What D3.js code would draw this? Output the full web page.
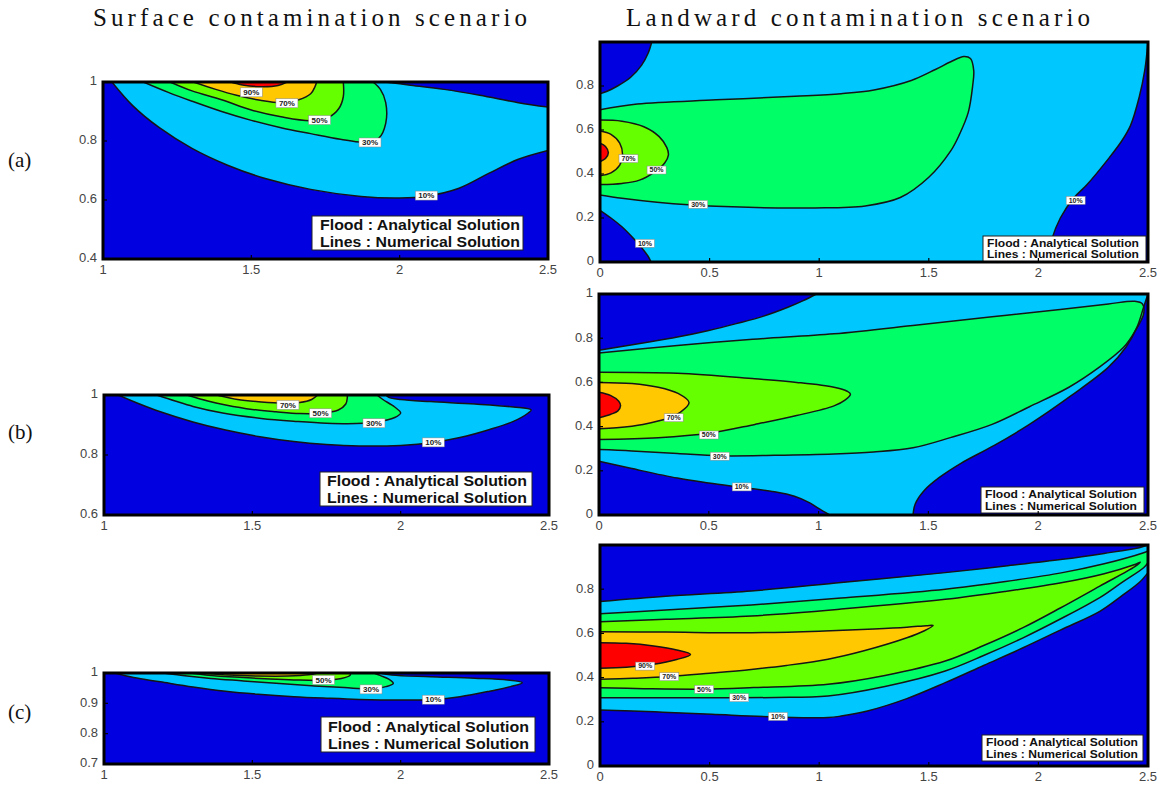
<!DOCTYPE html>
<html><head><meta charset="utf-8">
<script src="https://cdn.jsdelivr.net/npm/d3@7"></script>
<style>body{margin:0;background:#fff}svg{display:block}</style>
</head><body><svg id="c" width="1174" height="788"></svg>
<script>
// ---------------- data ----------------
const levelNames = ["<10%","10%","30%","50%","70%","90%"];
const levelColors = ["#0000e0","#00c8ff","#00ff66","#66ff00","#ffc800","#ff0000"];
const columnTitles = ["Surface contamination scenario","Landward contamination scenario"];
const rowLabels = ["(a)","(b)","(c)"];
const legendLines = ["Flood : Analytical Solution","Lines : Numerical Solution"];
const xTicksSurface = [1,1.5,2,2.5];
const xTicksLandward = [0,0.5,1,1.5,2,2.5];
const yTicksAS = [0.4,0.6,0.8,1];
const yTicksBS = [0.6,0.8,1];
const yTicksCS = [0.7,0.8,0.9,1];
const yTicksAL = [0,0.2,0.4,0.6,0.8];
const yTicksBL = [0,0.2,0.4,0.6,0.8,1];
const yTicksCL = [0,0.2,0.4,0.6,0.8];

// (a) surface
const aS10a = [[1.03,1],[1.1,0.92],[1.19,0.845],[1.3,0.775],[1.42,0.718],[1.55,0.672],[1.7,0.636],[1.87,0.612],[2.0,0.607],[2.09,0.613],[2.2,0.64],[2.3,0.69],[2.4,0.738],[2.5,0.768]];
const aS10b = [[2.5,0.915],[2.4,0.93],[2.27,0.955],[2.15,0.975],[2.03,0.99],[1.95,1]];
const aS30 = [[1.136,1],[1.22,0.965],[1.3,0.935],[1.4,0.9],[1.5,0.87],[1.6,0.845],[1.7,0.825],[1.8,0.806],[1.88,0.796],[1.93,0.81],[1.953,0.86],[1.953,0.93],[1.935,0.975],[1.91,1]];
const aS50 = [[1.226,1],[1.3,0.97],[1.4,0.94],[1.5,0.905],[1.6,0.882],[1.7,0.869],[1.76,0.88],[1.795,0.91],[1.81,0.95],[1.81,1]];
const aS70 = [[1.305,1],[1.38,0.975],[1.45,0.955],[1.53,0.938],[1.6,0.93],[1.66,0.94],[1.7,0.96],[1.715,0.985],[1.72,1]];
const aS90 = [[1.43,1],[1.47,0.99],[1.53,0.984],[1.59,0.988],[1.62,1]];
const aSLabels = [[1.50,0.965,"90%"],[1.62,0.928,"70%"],[1.73,0.871,"50%"],[1.90,0.795,"30%"],[2.09,0.615,"10%"]];

// (b) surface
const bS10 = [[1.048,1],[1.12,0.97],[1.19,0.944],[1.3,0.91],[1.41,0.883],[1.52,0.862],[1.64,0.845],[1.75,0.835],[1.86,0.83],[2.0,0.832],[2.11,0.842],[2.2,0.858],[2.3,0.885],[2.38,0.912],[2.43,0.94],[2.44,0.95],[2.38,0.96],[2.25,0.97],[2.1,0.978],[2.0,0.985],[1.96,0.992],[1.95,1]];
const bS30 = [[1.178,1],[1.24,0.98],[1.3,0.962],[1.4,0.94],[1.53,0.922],[1.65,0.912],[1.75,0.906],[1.85,0.905],[1.93,0.912],[1.98,0.925],[2.0,0.94],[1.98,0.96],[1.94,0.985],[1.92,1]];
const bS50 = [[1.28,1],[1.35,0.98],[1.41,0.967],[1.5,0.952],[1.58,0.944],[1.66,0.938],[1.73,0.939],[1.79,0.95],[1.815,0.97],[1.82,0.99],[1.82,1]];
const bS70 = [[1.38,1],[1.45,0.985],[1.53,0.977],[1.6,0.973],[1.66,0.975],[1.70,0.985],[1.72,1]];
const bSLabels = [[1.62,0.967,"70%"],[1.73,0.939,"50%"],[1.91,0.906,"30%"],[2.11,0.842,"10%"]];

// (c) surface
const cS10 = [[1.037,1],[1.1,0.985],[1.19,0.971],[1.3,0.954],[1.41,0.94],[1.52,0.93],[1.64,0.922],[1.75,0.917],[1.86,0.913],[2.0,0.911],[2.11,0.913],[2.2,0.922],[2.3,0.94],[2.37,0.955],[2.41,0.968],[2.36,0.977],[2.25,0.983],[2.1,0.988],[1.97,0.993],[1.93,1]];
const cS30 = [[1.20,1],[1.28,0.99],[1.36,0.982],[1.47,0.974],[1.58,0.966],[1.7,0.958],[1.81,0.952],[1.9,0.948],[1.95,0.955],[1.975,0.966],[1.96,0.98],[1.93,0.992],[1.91,1]];
const cS50 = [[1.29,1],[1.38,0.99],[1.47,0.985],[1.56,0.98],[1.64,0.977],[1.74,0.976],[1.8,0.982],[1.83,0.993],[1.83,1]];
const cS70 = [[1.33,1],[1.42,0.993],[1.52,0.99],[1.62,0.99],[1.69,0.994],[1.72,1]];
const cSLabels = [[1.74,0.977,"50%"],[1.90,0.946,"30%"],[2.11,0.912,"10%"]];

// (a) landward
const aL10tl = [[0.236,1],[0.22,0.95],[0.19,0.895],[0.14,0.84],[0.08,0.8],[0.03,0.775],[0,0.765]];
const aL10bl = [[0,0.235],[0.05,0.2],[0.1,0.16],[0.15,0.11],[0.19,0.065],[0.22,0.025],[0.233,0]];
const aL10r = [[2.04,0],[2.06,0.1],[2.1,0.2],[2.16,0.29],[2.22,0.35],[2.32,0.47],[2.38,0.55],[2.42,0.62],[2.46,0.75],[2.485,0.87],[2.495,0.95],[2.5,1]];
const aL30 = [[0,0.692],[0.17,0.718],[0.53,0.737],[0.89,0.753],[1.1,0.765],[1.25,0.782],[1.42,0.825],[1.53,0.875],[1.6,0.91],[1.66,0.934],[1.69,0.925],[1.705,0.87],[1.70,0.8],[1.68,0.68],[1.64,0.58],[1.6,0.505],[1.5,0.385],[1.37,0.293],[1.21,0.255],[0.98,0.246],[0.53,0.253],[0.26,0.272],[0.1,0.29],[0,0.305]];
const aL50 = [[0,0.645],[0.1,0.64],[0.2,0.615],[0.27,0.57],[0.305,0.52],[0.312,0.486],[0.295,0.45],[0.25,0.41],[0.18,0.372],[0.1,0.357],[0,0.352]];
const aL70 = [[0,0.595],[0.05,0.58],[0.09,0.54],[0.103,0.485],[0.09,0.44],[0.05,0.405],[0,0.392]];
const aL90 = [[0,0.54],[0.025,0.525],[0.038,0.497],[0.025,0.47],[0,0.456]];
const aLLabels = [[0.13,0.47,"70%"],[0.258,0.418,"50%"],[0.448,0.262,"30%"],[0.205,0.085,"10%"],[2.17,0.28,"10%"]];

// (b) landward
const bL10tl = [[0.99,1],[0.93,0.97],[0.86,0.94],[0.75,0.9],[0.625,0.866],[0.5,0.835],[0.357,0.805],[0.2,0.778],[0.09,0.76],[0,0.745]];
const bL10bl = [[0,0.243],[0.15,0.21],[0.357,0.167],[0.5,0.145],[0.65,0.125],[0.8,0.105],[0.89,0.085],[0.96,0.055],[1.0,0.03],[1.05,0]];
const bL10r = [[1.43,0],[1.44,0.05],[1.48,0.11],[1.55,0.17],[1.65,0.235],[1.8,0.315],[1.96,0.41],[2.15,0.54],[2.32,0.669],[2.4,0.76],[2.45,0.85],[2.48,0.94],[2.5,1]];
const bL30 = [[0,0.733],[0.357,0.767],[0.7,0.795],[1.07,0.82],[1.45,0.86],[1.79,0.897],[2.1,0.93],[2.32,0.955],[2.44,0.967],[2.475,0.955],[2.48,0.91],[2.44,0.83],[2.39,0.76],[2.28,0.67],[2.14,0.578],[1.96,0.49],[1.79,0.41],[1.6,0.35],[1.43,0.304],[1.25,0.285],[1.07,0.276],[0.8,0.27],[0.55,0.268],[0.357,0.278],[0.15,0.29],[0,0.296]];
const bL50 = [[0,0.646],[0.357,0.641],[0.71,0.616],[0.9,0.6],[1.07,0.578],[1.13,0.56],[1.145,0.547],[1.12,0.52],[1.07,0.494],[0.9,0.45],[0.71,0.41],[0.5,0.37],[0.27,0.35],[0,0.342]];
const bL70 = [[0,0.60],[0.15,0.595],[0.27,0.578],[0.36,0.55],[0.41,0.509],[0.37,0.465],[0.32,0.44],[0.2,0.41],[0.08,0.395],[0,0.39]];
const bL90 = [[0,0.555],[0.054,0.54],[0.09,0.515],[0.098,0.494],[0.085,0.47],[0.054,0.456],[0,0.44]];
const bLLabels = [[0.34,0.44,"70%"],[0.5,0.362,"50%"],[0.55,0.266,"30%"],[0.65,0.127,"10%"]];

// (c) landward
const cL10u = [[0,0.744],[0.3,0.768],[0.69,0.792],[1.1,0.83],[1.575,0.875],[1.85,0.905],[2.11,0.935],[2.3,0.962],[2.46,0.988],[2.5,1.0]];
const cL10l = [[2.5,0.875],[2.46,0.83],[2.38,0.77],[2.28,0.70],[2.1,0.615],[1.93,0.535],[1.75,0.455],[1.575,0.377],[1.4,0.305],[1.22,0.249],[1.1,0.226],[1.04,0.219],[0.8,0.222],[0.51,0.234],[0.25,0.245],[0,0.253]];
const cL30u = [[0,0.689],[0.3,0.706],[0.69,0.729],[1.1,0.76],[1.575,0.80],[1.85,0.835],[2.11,0.875],[2.3,0.915],[2.48,0.965],[2.5,0.973]];
const cL30l = [[2.5,0.92],[2.48,0.897],[2.38,0.83],[2.28,0.762],[2.1,0.665],[1.93,0.58],[1.75,0.5],[1.575,0.43],[1.3,0.36],[1.04,0.317],[0.8,0.31],[0.5,0.309],[0,0.309]];
const cL50 = [[0,0.653],[0.3,0.664],[0.69,0.679],[1.1,0.71],[1.575,0.754],[1.85,0.79],[2.11,0.83],[2.3,0.87],[2.44,0.912],[2.465,0.922],[2.44,0.902],[2.28,0.814],[2.1,0.715],[1.93,0.626],[1.75,0.545],[1.575,0.475],[1.3,0.41],[1.04,0.37],[0.7,0.355],[0.475,0.348],[0.2,0.35],[0,0.354]];
const cL70 = [[0,0.608],[0.3,0.606],[0.69,0.603],[1.0,0.61],[1.25,0.62],[1.40,0.628],[1.49,0.635],[1.52,0.636],[1.48,0.612],[1.40,0.58],[1.2,0.52],[1.04,0.483],[0.85,0.455],[0.69,0.437],[0.5,0.42],[0.316,0.405],[0.15,0.397],[0,0.392]];
const cL90 = [[0,0.558],[0.12,0.555],[0.245,0.543],[0.35,0.525],[0.413,0.505],[0.35,0.482],[0.245,0.46],[0.12,0.447],[0,0.442]];
const cLLabels = [[0.206,0.452,"90%"],[0.316,0.404,"70%"],[0.475,0.347,"50%"],[0.635,0.309,"30%"],[0.812,0.224,"10%"]];

// ---------------- layout ----------------
const svg = d3.select("#c");
const panels = [
  {id:"aS", xd:[1,2.5], yd:[0.4,1], box:[103,82,548,259], xt:xTicksSurface, yt:yTicksAS,
   regions:[[aS10a,aS10b],[aS30],[aS50],[aS70],[aS90]], labels:aSLabels, lab:{w:22,h:9,fs:8},
   legend:{x:312,y:216,w:211,h:34,fs:15,tx:320,b1:230,b2:247,tl:200}},
  {id:"bS", xd:[1,2.5], yd:[0.6,1], box:[104,395,549,515], xt:xTicksSurface, yt:yTicksBS,
   regions:[[bS10],[bS30],[bS50],[bS70]], labels:bSLabels, lab:{w:22,h:9,fs:8},
   legend:{x:320,y:472,w:212,h:34,fs:15,tx:327,b1:486,b2:503,tl:200}},
  {id:"cS", xd:[1,2.5], yd:[0.7,1], box:[104,673,549,764], xt:xTicksSurface, yt:yTicksCS,
   regions:[[cS10],[cS30],[cS50],[cS70]], labels:cSLabels, lab:{w:22,h:9,fs:8},
   legend:{x:321,y:717,w:214,h:35,fs:15,tx:328,b1:732,b2:749,tl:201}},
  {id:"aL", xd:[0,2.5], yd:[0,1], box:[600,42,1148,262], xt:xTicksLandward, yt:yTicksAL,
   regions:[[aL10tl,aL10bl,aL10r],[aL30],[aL50],[aL70],[aL90]], labels:aLLabels, lab:{w:19,h:8,fs:7},
   legend:{x:983,y:236,w:163,h:26,fs:11.5,tx:987,b1:246.5,b2:258,tl:152}},
  {id:"bL", xd:[0,2.5], yd:[0,1], box:[599,294,1148,515], xt:xTicksLandward, yt:yTicksBL,
   regions:[[bL10tl,bL10bl,bL10r],[bL30],[bL50],[bL70],[bL90]], labels:bLLabels, lab:{w:19,h:8,fs:7},
   legend:{x:981,y:487,w:163,h:26,fs:11.5,tx:985,b1:497.5,b2:509.5,tl:152}},
  {id:"cL", xd:[0,2.5], yd:[0,1], box:[600,545,1148,766], xt:xTicksLandward, yt:yTicksCL,
   regions:[[cL10u,cL10l],[cL30u,cL30l],[cL50],[cL70],[cL90]], labels:cLLabels, lab:{w:19,h:8,fs:7},
   legend:{x:982,y:735,w:161,h:26,fs:11.5,tx:986,b1:746,b2:758,tl:152}}
];

const defs = svg.append("defs");

panels.forEach(p => {
  const [x0,y0,x1,y1] = p.box;
  const x = d3.scaleLinear().domain(p.xd).range([x0,x1]);
  const y = d3.scaleLinear().domain(p.yd).range([y1,y0]);
  defs.append("clipPath").attr("id","clip-"+p.id)
    .append("rect").attr("x",x0).attr("y",y0).attr("width",x1-x0).attr("height",y1-y0);
  const g = svg.append("g");
  const plot = g.append("g").attr("clip-path","url(#clip-"+p.id+")");
  plot.append("rect").attr("x",x(p.xd[0])).attr("y",y(p.yd[1]))
    .attr("width",x(p.xd[1])-x(p.xd[0])).attr("height",y(p.yd[0])-y(p.yd[1]))
    .attr("fill",levelColors[0]);
  const line = d3.line().x(d=>x(d[0])).y(d=>y(d[1])).curve(d3.curveCatmullRom.alpha(0.5));
  p.regions.forEach((pieces,i) => {
    const dstr = pieces.map((pc,k) => {
      let s = line(pc).replace(/Z$/,"");
      return k ? "L" + s.slice(1) : s;
    }).join("") + "Z";
    plot.append("path").attr("d",dstr).attr("fill",levelColors[i+1]);
  });
  p.regions.forEach(pieces => pieces.forEach(pc => {
    plot.append("path").attr("d",line(pc)).attr("fill","none")
      .attr("stroke","#151515").attr("stroke-width",1.5);
  }));
  // contour labels
  p.labels.forEach(([vx,vy,t]) => {
    const cx = x(vx), cy = y(vy);
    plot.append("rect").attr("x",cx-p.lab.w/2).attr("y",cy-p.lab.h/2)
      .attr("width",p.lab.w).attr("height",p.lab.h).attr("fill","#fff")
      .attr("stroke","#888").attr("stroke-width",0.5);
    plot.append("text").attr("x",cx).attr("y",cy+0.5).attr("text-anchor","middle")
      .attr("dominant-baseline","middle").attr("font-family","Liberation Sans, Arial, sans-serif")
      .attr("font-weight","bold").attr("font-size",p.lab.fs).attr("fill","#222").text(t);
  });
  // legend
  const L = p.legend;
  g.append("rect").attr("x",L.x).attr("y",L.y).attr("width",L.w).attr("height",L.h)
    .attr("fill","#fff").attr("stroke","#222").attr("stroke-width",1);
  [L.b1,L.b2].forEach((b,i) => {
    g.append("text").attr("x",L.tx).attr("y",b)
      .attr("font-family","Liberation Sans, Arial, sans-serif").attr("font-weight","bold")
      .attr("font-size",L.fs).attr("fill","#111")
      .attr("textLength",L.tl).attr("lengthAdjust","spacingAndGlyphs").text(legendLines[i]);
  });
  // ticks
  p.xt.forEach(v => {
    g.append("line").attr("x1",x(v)).attr("x2",x(v)).attr("y1",y1).attr("y2",y1-4)
      .attr("stroke","#000").attr("stroke-width",1.2);
    g.append("text").attr("x",x(v)).attr("y",y1+12).attr("text-anchor","middle")
      .attr("dominant-baseline","middle").attr("font-family","Liberation Sans, Arial, sans-serif")
      .attr("font-size",13).attr("fill","#444").text(String(v));
  });
  p.yt.forEach(v => {
    g.append("line").attr("x1",x0).attr("x2",x0+4).attr("y1",y(v)).attr("y2",y(v))
      .attr("stroke","#000").attr("stroke-width",1.2);
    g.append("text").attr("x",x0-6).attr("y",y(v)).attr("text-anchor","end")
      .attr("dominant-baseline","middle").attr("font-family","Liberation Sans, Arial, sans-serif")
      .attr("font-size",13).attr("fill","#444").text(String(v));
  });
  // frame
  g.append("rect").attr("x",x0).attr("y",y0).attr("width",x1-x0).attr("height",y1-y0)
    .attr("fill","none").attr("stroke","#000").attr("stroke-width",3);
});

// titles
const titleSpec = [{cx:310,len:434},{cx:858,len:464}];
columnTitles.forEach((t,i) => {
  svg.append("text").attr("x",titleSpec[i].cx).attr("y",26).attr("text-anchor","middle")
    .attr("font-family","Liberation Serif, Times New Roman, serif").attr("font-size",25)
    .attr("fill","#111").attr("textLength",titleSpec[i].len).attr("lengthAdjust","spacing").text(t);
});
const rowY = [167,439,719];
rowLabels.forEach((t,i) => {
  svg.append("text").attr("x",8).attr("y",rowY[i])
    .attr("font-family","Liberation Serif, Times New Roman, serif").attr("font-size",21)
    .attr("fill","#111").text(t);
});
</script>
</body></html>
